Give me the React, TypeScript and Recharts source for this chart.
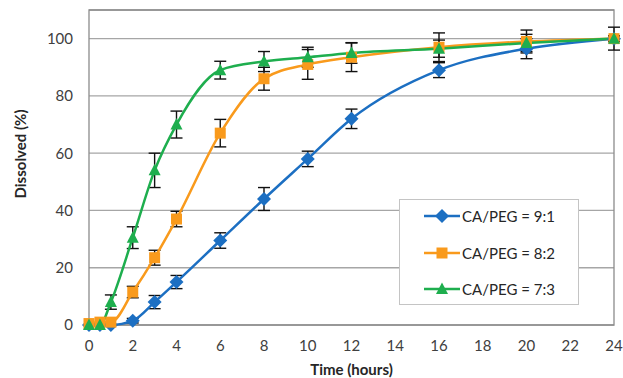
import { LineChart, Line, XAxis, YAxis, CartesianGrid, ErrorBar, ReferenceArea, Legend, Label } from 'recharts'

// dissolution profile
const times = [0, 0.5, 1, 2, 3, 4, 6, 8, 10, 12, 16, 20, 24]
const ratio91 = [0, 0, 0, 1.5, 8, 15, 29.5, 44, 58, 72, 89, 96.5, 100]
const ratio82 = [0.5, 1, 1, 11.5, 23.5, 37, 67, 86, 91, 93.5, 97, 99, 100]
const ratio73 = [0, 0, 8, 30.5, 54, 70, 89, 92, 93.5, 95, 96.5, 98.5, 100]
const err91 = [null, null, null, 0.8, 2.3, 2.3, 2.7, 4, 2.7, 3.4, 2.6, 3.5, 4]
const err82 = [null, null, null, 2, 2.6, 2.7, 4.8, 4, 5.2, 5, 5, 4, 1]
const err73 = [null, null, 2.5, 3.8, 6, 4.7, 3.1, 3.5, 3.5, 3.6, 3, 3, 1]

const xTicks = [0, 2, 4, 6, 8, 10, 12, 14, 16, 18, 20, 22, 24]
const yTicks = [0, 20, 40, 60, 80, 100]

const series = [
  { key: 'r91', err: 'e91', name: 'CA/PEG = 9:1', color: '#1c6fc2', shape: 'diamond' },
  { key: 'r82', err: 'e82', name: 'CA/PEG = 8:2', color: '#f99a1c', shape: 'square' },
  { key: 'r73', err: 'e73', name: 'CA/PEG = 7:3', color: '#1eae4e', shape: 'triangle' },
]

const data = times.map((t, i) => ({
  t,
  r91: ratio91[i],
  r82: ratio82[i],
  r73: ratio73[i],
  e91: err91[i],
  e82: err82[i],
  e73: err73[i],
}))

function marker(shape: string, cx: number, cy: number, color: string, key?: any) {
  if (cx == null || cy == null) return <g key={key} />
  if (shape === 'diamond')
    return <path key={key} d={`M${cx},${cy - 7}L${cx + 7},${cy}L${cx},${cy + 7}L${cx - 7},${cy}Z`} fill={color} />
  if (shape === 'square')
    return <rect key={key} x={cx - 5.5} y={cy - 5.5} width={11} height={11} fill={color} />
  return <path key={key} d={`M${cx},${cy - 6.5}L${cx + 6},${cy + 5}L${cx - 6},${cy + 5}Z`} fill={color} />
}

function LegendBox() {
  return (
    <div style={{ width: 180, height: 106, boxSizing: 'border-box', border: '1px solid #c4c4c4', background: '#fff', overflow: 'hidden' }}>
      <div style={{ marginTop: -2 }}>
        {series.map(s => (
          <div key={s.key} style={{ display: 'flex', alignItems: 'center', height: 36.5 }}>
            <svg width={62} height={16} style={{ flexShrink: 0 }}>
              <line x1={24} y1={8} x2={60} y2={8} stroke={s.color} strokeWidth={2.5} />
              {marker(s.shape, 42, 8, s.color)}
            </svg>
            <span style={{ fontFamily: 'Lato', fontSize: 15, color: '#262626' }}>{s.name}</span>
          </div>
        ))}
      </div>
    </div>
  )
}

function YTitle() {
  return (
    <text x={20} y={154} transform="rotate(-90 20 154)" textAnchor="middle" dominantBaseline="central"
      fontFamily="Lato" fontWeight="bold" fontSize={15} fill="#262626">
      Dissolved (%)
    </text>
  )
}

export default function App() {
  const tick = { fontFamily: 'Lato', fontSize: 15, fill: '#404040' }
  return (
    <div style={{ position: 'absolute', left: 0, top: 0, width: 623, height: 378, background: '#fff' }}>
      <LineChart width={623} height={378} data={data} margin={{ top: 10, right: 9, bottom: 1, left: 29 }}>
        <CartesianGrid horizontal vertical={false} stroke="#a6a6a6" strokeWidth={1.3} />
        <ReferenceArea x1={0} x2={24} y1={0} y2={110} fill="none" stroke="#8c8c8c" strokeWidth={1.3} ifOverflow="visible" />
        <XAxis dataKey="t" type="number" domain={[0, 24]} ticks={xTicks} axisLine={false} tickLine={false}
          tickMargin={9} height={52} tick={tick} interval={0}>
          <Label value="Time (hours)" position="insideBottom" offset={2}
            style={{ fontFamily: 'Lato', fontWeight: 'bold', fontSize: 15, fill: '#262626' }} />
        </XAxis>
        <YAxis type="number" domain={[0, 110]} ticks={yTicks} axisLine={false} tickLine={false}
          tickMargin={10} width={60} tick={tick} label={<YTitle />} />
        {series.map(s => (
          <Line key={s.key} dataKey={s.key} name={s.name} type="monotone" stroke={s.color} strokeWidth={2.5}
            isAnimationActive={false}
            dot={(p: any) => marker(s.shape, p.cx, p.cy, s.color, p.key ?? `${s.key}-${p.index}`)}
            activeDot={false}>
            <ErrorBar dataKey={s.err} direction="y" width={6} stroke="#111" strokeWidth={1.4} />
          </Line>
        ))}
        <Legend layout="horizontal" verticalAlign="middle" align="center" content={<LegendBox />}
          wrapperStyle={{ left: 399, top: 199, width: 180, height: 106 }} />
      </LineChart>
    </div>
  )
}
